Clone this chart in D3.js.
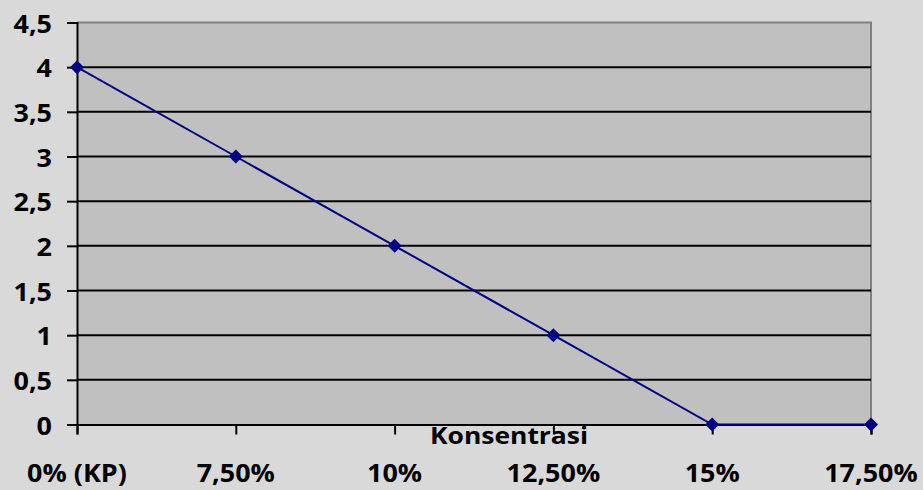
<!DOCTYPE html>
<html>
<head>
<meta charset="utf-8">
<script src="https://cdn.jsdelivr.net/npm/d3@7"></script>
<style>
  html, body { margin: 0; padding: 0; background: #d9d9d9; }
  svg { display: block; }
  text { font-family: "Open Sans", "Noto Sans", sans-serif; font-weight: 700; fill: #000; }
</style>
</head>
<body>
<svg id="chart" width="923" height="490"></svg>
<script>
// Concentration categories and measured scores
const categories = ["0% (KP)", "7,50%", "10%", "12,50%", "15%", "17,50%"];
const values = [4, 3, 2, 1, 0, 0];
const yTicks = [0, 0.5, 1, 1.5, 2, 2.5, 3, 3.5, 4, 4.5];
const xTitle = "Konsentrasi";

const W = 923, H = 490;
const plot = { left: 77, right: 871, top: 22.5, bottom: 424.5 };
const FONT = 24.5;       // tick label font size
const TITLE_FONT = 23;   // axis title font size

const svg = d3.select("#chart");
svg.append("rect").attr("width", W).attr("height", H).attr("fill", "#d9d9d9");

const x = d3.scalePoint().domain(categories).range([plot.left, plot.right]);
const y = d3.scaleLinear().domain([0, 4.5]).range([plot.bottom, plot.top]);

const fmt = d => String(d).replace(".", ",");
const place = (px, py, sx) => `translate(${px},${py}) scale(${sx},1)`;

// plot area
svg.append("rect")
  .attr("x", plot.left).attr("y", plot.top)
  .attr("width", plot.right - plot.left).attr("height", plot.bottom - plot.top)
  .attr("fill", "#c0c0c0");

// top and right border of plot area
svg.append("path")
  .attr("d", `M${plot.left},${plot.top}H${plot.right}V${plot.bottom}`)
  .attr("fill", "none").attr("stroke", "#808080").attr("stroke-width", 2);

// horizontal gridlines
svg.append("g").selectAll("line")
  .data(yTicks.filter(t => t > 0 && t < 4.5))
  .join("line")
  .attr("x1", plot.left).attr("x2", plot.right)
  .attr("y1", d => y(d)).attr("y2", d => y(d))
  .attr("stroke", "#000").attr("stroke-width", 2);

// y axis (line and ticks)
const yAxis = d3.axisLeft(y).tickValues(yTicks).tickFormat(() => "").tickSize(10);
const gy = svg.append("g").attr("transform", `translate(${plot.left},0)`).call(yAxis);
gy.select(".domain").attr("stroke", "#000").attr("stroke-width", 2);
gy.selectAll(".tick line").attr("stroke", "#000").attr("stroke-width", 2);

// y tick labels
svg.append("g").selectAll("text")
  .data(yTicks)
  .join("text")
  .attr("transform", d => place(52, y(d) + 10, 1.1))
  .attr("text-anchor", "end").attr("font-size", FONT)
  .text(fmt);

// x axis (line and ticks)
const xAxis = d3.axisBottom(x).tickSize(10).tickFormat(() => "");
const gx = svg.append("g").attr("transform", `translate(0,${plot.bottom})`).call(xAxis);
gx.select(".domain").attr("stroke", "#000").attr("stroke-width", 2);
gx.selectAll(".tick line").attr("stroke", "#000").attr("stroke-width", 2);

// category labels
svg.append("g").selectAll("text")
  .data(categories)
  .join("text")
  .attr("transform", d => place(x(d), 482, 1.1))
  .attr("text-anchor", "middle").attr("font-size", FONT)
  .text(d => d);

// axis title
svg.append("text")
  .attr("transform", place(509, 444, 1.15))
  .attr("text-anchor", "middle").attr("font-size", TITLE_FONT)
  .text(xTitle);

// series line
const line = d3.line().x((d, i) => x(categories[i])).y(d => y(d));
svg.append("path").datum(values)
  .attr("d", line).attr("fill", "none")
  .attr("stroke", "#000080").attr("stroke-width", 2);

// diamond markers
svg.append("g").selectAll("path")
  .data(values)
  .join("path")
  .attr("transform", (d, i) => `translate(${x(categories[i])},${y(d)})`)
  .attr("d", "M0,-7L7,0L0,7L-7,0Z")
  .attr("fill", "#000080");
</script>
</body>
</html>
